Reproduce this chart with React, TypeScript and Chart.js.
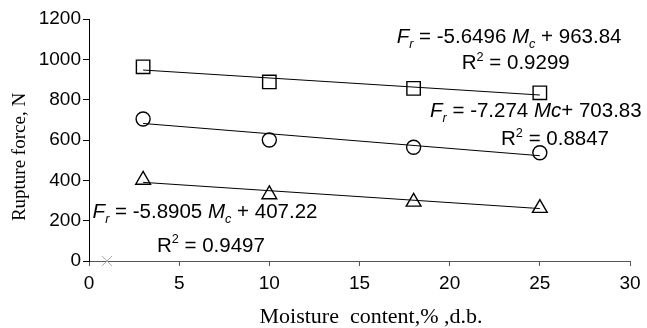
import React, { useEffect, useRef } from 'react';
import { Chart, registerables } from 'chart.js';

Chart.register(...registerables);

// ---- data ----
const moisture = [3, 10, 18, 25];
const forceSquare = [963, 888, 856, 834];
const forceCircle = [704, 600, 564, 537];
const forceTriangle = [402, 330, 293, 262];

const trendX = [3, 25];
const trendSquare = [947, 823];
const trendCircle = [682, 522];
const trendTriangle = [390, 260];

const strayX = [1];
const strayY = [0];

const xMin = 0, xMax = 30, xStep = 5;
const yMin = 0, yMax = 1200, yStep = 200;

const xTitle = 'Moisture  content,% ,d.b.';
const yTitle = 'Rupture force, N';

type Seg = { t: string; i?: boolean; sub?: boolean; sup?: boolean };

const eqSquare: Seg[] = [
  { t: 'F', i: true }, { t: 'r', i: true, sub: true }, { t: ' = -5.6496 ' },
  { t: 'M', i: true }, { t: 'c', i: true, sub: true }, { t: ' + 963.84' },
];
const r2Square: Seg[] = [{ t: 'R' }, { t: '2', sup: true }, { t: ' = 0.9299' }];
const eqCircle: Seg[] = [
  { t: 'F', i: true }, { t: 'r', i: true, sub: true }, { t: ' = -7.274 ' },
  { t: 'Mc', i: true }, { t: '+ 703.83' },
];
const r2Circle: Seg[] = [{ t: 'R' }, { t: '2', sup: true }, { t: ' = 0.8847' }];
const eqTriangle: Seg[] = [
  { t: 'F', i: true }, { t: 'r', i: true, sub: true }, { t: ' = -5.8905 ' },
  { t: 'M', i: true }, { t: 'c', i: true, sub: true }, { t: ' + 407.22' },
];
const r2Triangle: Seg[] = [{ t: 'R' }, { t: '2', sup: true }, { t: ' = 0.9497' }];

// annotation anchors in data units: [left x, baseline y]
const labels: { segs: Seg[]; x: number; y: number }[] = [
  { segs: eqSquare, x: 17.06, y: 1081 },
  { segs: r2Square, x: 20.67, y: 951 },
  { segs: eqCircle, x: 18.91, y: 713 },
  { segs: r2Circle, x: 22.85, y: 574 },
  { segs: eqTriangle, x: 0.2, y: 212 },
  { segs: r2Triangle, x: 3.77, y: 45 },
];

const SANS = '"Liberation Sans", Arial, sans-serif';
const SERIF = '"Liberation Serif", "Times New Roman", serif';

function drawRich(ctx: CanvasRenderingContext2D, segs: Seg[], x: number, y: number, size: number) {
  let cx = x;
  for (const s of segs) {
    const small = s.sub || s.sup;
    const fs = small ? size * 0.62 : size;
    ctx.font = `${s.i ? 'italic ' : ''}${fs}px ${SANS}`;
    let dy = 0;
    if (s.sub) dy = size * 0.22;
    if (s.sup) dy = -size * 0.42;
    ctx.fillText(s.t, cx, y + dy);
    cx += ctx.measureText(s.t).width;
  }
}

const textPlugin = {
  id: 'textPlugin',
  afterDraw(chart: any) {
    const ctx: CanvasRenderingContext2D = chart.ctx;
    const xs = chart.scales.x;
    const ys = chart.scales.y;
    ctx.save();
    ctx.fillStyle = '#000';
    ctx.textBaseline = 'alphabetic';
    ctx.textAlign = 'left';
    for (const l of labels) {
      drawRich(ctx, l.segs, xs.getPixelForValue(l.x), ys.getPixelForValue(l.y), 20.5);
    }
    // axis titles
    ctx.font = `22px ${SERIF}`;
    ctx.textAlign = 'center';
    ctx.fillText(xTitle, 371, 323);
    ctx.save();
    ctx.translate(25, 157);
    ctx.rotate(-Math.PI / 2);
    ctx.font = `19px ${SERIF}`;
    ctx.fillText(yTitle, 0, 0);
    ctx.restore();
    ctx.restore();
  },
};

export default function App() {
  const ref = useRef<HTMLCanvasElement>(null);
  useEffect(() => {
    document.body.style.margin = '0';
    const pts = (ys: number[]) => moisture.map((x, k) => ({ x, y: ys[k] }));
    const tr = (ys: number[]) => trendX.map((x, k) => ({ x, y: ys[k] }));
    const markerBase = {
      showLine: false,
      backgroundColor: 'rgba(0,0,0,0)',
      borderColor: '#000',
      pointBorderWidth: 1.4,
      clip: false as any,
    };
    const trendBase = {
      showLine: true,
      borderColor: '#000',
      borderWidth: 1,
      pointRadius: 0,
      fill: false,
    };
    const chart = new Chart(ref.current!, {
      type: 'scatter',
      data: {
        datasets: [
          { ...trendBase, data: tr(trendSquare) },
          { ...trendBase, data: tr(trendCircle) },
          { ...trendBase, data: tr(trendTriangle) },
          { ...markerBase, data: pts(forceSquare), pointStyle: 'rect', pointRadius: 9.5 },
          { ...markerBase, data: pts(forceCircle), pointStyle: 'circle', pointRadius: 7 },
          { ...markerBase, data: pts(forceTriangle), pointStyle: 'triangle', pointRadius: 8.5 },
          {
            ...markerBase,
            data: strayX.map((x, k) => ({ x, y: strayY[k] })),
            pointStyle: 'crossRot',
            pointRadius: 7,
            borderColor: '#aaa',
            pointBorderWidth: 1,
          },
        ] as any,
      },
      options: {
        responsive: false,
        animation: false,
        devicePixelRatio: 1,
        layout: { padding: { left: 0, right: 17, top: 19, bottom: 0 } },
        plugins: { legend: { display: false }, tooltip: { enabled: false } },
        scales: {
          x: {
            type: 'linear',
            min: xMin,
            max: xMax,
            afterFit: (s: any) => { s.height = 67; },
            ticks: {
              stepSize: xStep, color: '#000', font: { family: SANS, size: 19 }, padding: 6, maxRotation: 0,
              callback: (v: any) => String(v),
            },
            grid: { display: true, drawOnChartArea: false, drawTicks: true, tickLength: 5, color: '#555' },
            border: { display: true, color: '#555', width: 1 },
          },
          y: {
            type: 'linear',
            min: yMin,
            max: yMax,
            afterFit: (s: any) => { s.width = 89; },
            ticks: {
              stepSize: yStep, color: '#000', font: { family: SANS, size: 19 }, padding: 2,
              callback: (v: any) => String(v),
            },
            grid: { display: true, drawOnChartArea: false, drawTicks: true, tickLength: 6, color: '#000' },
            border: { display: true, color: '#000', width: 1 },
          },
        },
      } as any,
      plugins: [textPlugin],
    });
    return () => chart.destroy();
  }, []);
  return (
    <div style={{ width: 647, height: 328, background: '#fff' }}>
      <canvas ref={ref} width={647} height={328} style={{ display: 'block' }} />
    </div>
  );
}
